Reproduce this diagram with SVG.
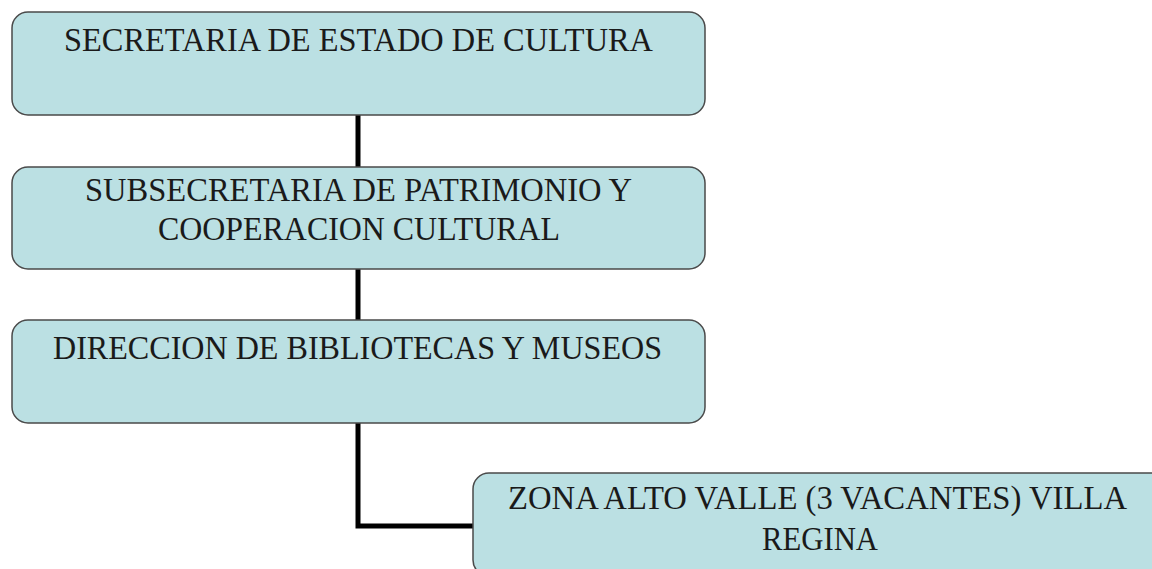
<svg xmlns="http://www.w3.org/2000/svg" width="1152" height="569" viewBox="0 0 1152 569">
<style>
.box{fill:#BBE0E3;stroke:#4a4a4a;stroke-width:1.5}
.t{font-family:"Liberation Serif","Times New Roman",serif;font-size:33px;fill:#1a1a1a;text-anchor:middle}
.c{fill:none;stroke:#000;stroke-width:5}
</style>
<rect width="1152" height="569" fill="#fff"/>
<g id="connectors">
<line class="c" x1="358" y1="115" x2="358" y2="167"/>
<line class="c" x1="358" y1="269" x2="358" y2="320"/>
<polyline class="c" points="358,423 358,526 473,526"/>
</g>
<g id="n1">
<rect class="box" x="12" y="12" width="693" height="103" rx="16"/>
<text class="t" x="358.5" y="51" textLength="589" lengthAdjust="spacingAndGlyphs">SECRETARIA DE ESTADO DE CULTURA</text>
</g>
<g id="n2">
<rect class="box" x="12" y="167" width="693" height="102" rx="16"/>
<text class="t" x="358.5" y="201" textLength="547" lengthAdjust="spacingAndGlyphs">SUBSECRETARIA DE PATRIMONIO Y</text>
<text class="t" x="359" y="240" textLength="402" lengthAdjust="spacingAndGlyphs">COOPERACION CULTURAL</text>
</g>
<g id="n3">
<rect class="box" x="12" y="320" width="693" height="103" rx="16"/>
<text class="t" x="357.5" y="359" textLength="609" lengthAdjust="spacingAndGlyphs">DIRECCION DE BIBLIOTECAS Y MUSEOS</text>
</g>
<g id="n4">
<rect class="box" x="473" y="473" width="693" height="103" rx="16"/>
<text class="t" x="817.5" y="509" textLength="619" lengthAdjust="spacingAndGlyphs">ZONA ALTO VALLE (3 VACANTES) VILLA</text>
<text class="t" x="820" y="550" textLength="116" lengthAdjust="spacingAndGlyphs">REGINA</text>
</g>
</svg>
